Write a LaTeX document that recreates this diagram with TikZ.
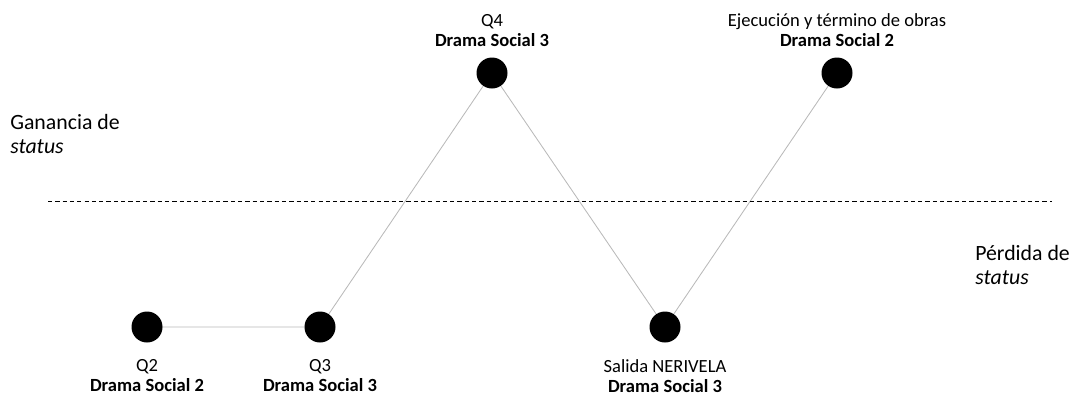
\documentclass[tikz,border=0pt]{standalone}
\usepackage{fontspec}
\setmainfont{Carlito}
\usetikzlibrary{positioning,backgrounds}

\begin{document}
\begin{tikzpicture}[x=0.025cm, y=-0.025cm, every node/.style={font=\fontsize{13.2}{14.2}\selectfont},
	hito/.style={circle, fill=black, inner sep=0pt, minimum size=31*0.025cm},
	tramo/.style={gray!55, line width=0.6pt},
	etiqueta/.style={align=center, inner sep=0pt},
	lado/.style={anchor=west, align=left, inner sep=0pt, font=\fontsize{15.5}{17}\selectfont}]
	\useasboundingbox (0,0) rectangle (1071,396);
	% linea de estatus
	\coordinate (izq) at (48,201);
	\coordinate (der) at (1052,201);
	\draw[dash pattern=on 3pt off 2.2pt, line width=0.6pt] (izq) -- (der);
	\node[lado] (gan) at (10,134) {Ganancia de\\\textit{status}};
	\node[lado] (per) at (975,265) {Pérdida de\\\textit{status}};
	% hitos
	\node[hito] (q2) at (147,327) {};
	\node[hito] (q3) at (320,327) {};
	\node[hito] (q4) at (492,73) {};
	\node[hito] (sal) at (665,327) {};
	\node[hito] (eje) at (837,73) {};
	\begin{scope}[on background layer]
		\draw[tramo] (q2.center) -- (q3.center) -- (q4.center) -- (sal.center) -- (eje.center);
	\end{scope}
	% etiquetas
	\node[etiqueta, below=12pt of q2] (t2) {Q2\\\textbf{Drama Social 2}};
	\node[etiqueta, below=12pt of q3] (t3) {Q3\\\textbf{Drama Social 3}};
	\node[etiqueta, below=12pt of sal] (ts) {Salida NERIVELA\\\textbf{Drama Social 3}};
	\node[etiqueta, above=7pt of q4] (t4) {Q4\\\textbf{Drama Social 3}};
	\node[etiqueta, above=7pt of eje] (te) {Ejecución y término de obras\\\textbf{Drama Social 2}};
\end{tikzpicture}
\end{document}
